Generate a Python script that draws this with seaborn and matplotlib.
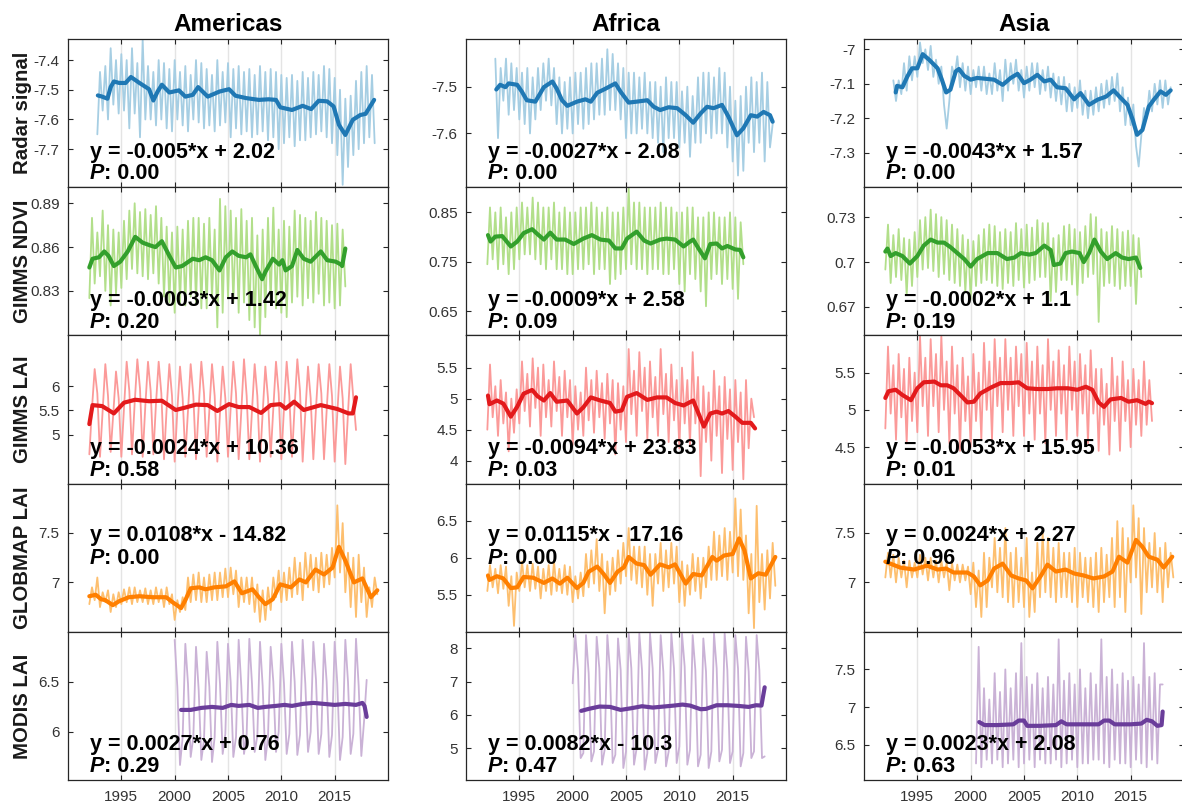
import numpy as np
import matplotlib
matplotlib.use("Agg")
import matplotlib.pyplot as plt
from matplotlib.ticker import FuncFormatter
import seaborn as sns

sns.set_theme(style="white")
plt.rcParams["font.family"] = ["Liberation Sans", "DejaVu Sans"]
plt.rcParams["axes.unicode_minus"] = False

regions = ["Americas", "Africa", "Asia"]
products = ["Radar signal", "GIMMS NDVI", "GIMMS LAI", "GLOBMAP LAI", "MODIS LAI"]
tick_years = [1995, 2000, 2005, 2010, 2015]

# ---------------- Radar signal (quarterly, from 1992.75) ----------------
radar_am_thin = [
    -7.65,
    -7.44, -7.57, -7.42, -7.60,  # 1993
    -7.36, -7.55, -7.40, -7.58,
    -7.38, -7.57, -7.40, -7.63,
    -7.36, -7.58, -7.41, -7.66,
    -7.33, -7.60, -7.42, -7.60,
    -7.44, -7.62, -7.40, -7.60,
    -7.41, -7.63, -7.43, -7.64,
    -7.40, -7.60, -7.44, -7.62,  # 2000
    -7.42, -7.64, -7.45, -7.60,
    -7.40, -7.61, -7.41, -7.63,
    -7.43, -7.62, -7.45, -7.64,
    -7.40, -7.62, -7.44, -7.61,
    -7.41, -7.66, -7.43, -7.63,  # 2005
    -7.42, -7.65, -7.44, -7.64,
    -7.43, -7.66, -7.45, -7.65,
    -7.42, -7.64, -7.44, -7.67,
    -7.43, -7.66, -7.44, -7.70,
    -7.45, -7.68, -7.46, -7.66,  # 2010
    -7.45, -7.69, -7.47, -7.67,
    -7.44, -7.67, -7.46, -7.66,
    -7.44, -7.65, -7.45, -7.64,
    -7.42, -7.66, -7.43, -7.68,
    -7.46, -7.72, -7.50, -7.82,  # 2015
    -7.53, -7.76, -7.52, -7.72,
    -7.47, -7.70, -7.44, -7.68,
    -7.42, -7.66, -7.45, -7.68,
]
radar_am_t = [1992.8, 1993.2, 1993.7, 1994.0, 1994.3, 1994.8, 1995.4, 1995.9, 1996.7,
              1997.6, 1998.0, 1998.4, 1998.8, 1999.5, 2000.4, 2001.0, 2001.7, 2002.2,
              2003.1, 2004.2, 2005.1, 2005.7, 2006.7, 2007.9, 2008.8, 2009.5, 2009.9,
              2011.0, 2012.0, 2012.8, 2013.5, 2014.3, 2014.9, 2015.4, 2016.0, 2016.7,
              2017.4, 2017.9, 2018.7]
radar_am_v = [-7.519, -7.523, -7.530, -7.491, -7.472, -7.477, -7.477, -7.457, -7.477,
              -7.498, -7.536, -7.506, -7.483, -7.509, -7.502, -7.523, -7.517, -7.491,
              -7.523, -7.506, -7.498, -7.520, -7.528, -7.534, -7.532, -7.534, -7.559,
              -7.568, -7.554, -7.565, -7.537, -7.539, -7.556, -7.618, -7.652, -7.601,
              -7.585, -7.581, -7.534]

radar_af_thin = [
    -7.44,
    -7.61, -7.46, -7.53, -7.44,  # 1993
    -7.56, -7.45, -7.55, -7.46,
    -7.57, -7.47, -7.58, -7.46,
    -7.60, -7.48, -7.57, -7.46,
    -7.55, -7.45, -7.53, -7.44,
    -7.54, -7.46, -7.58, -7.48,
    -7.60, -7.49, -7.59, -7.48,
    -7.60, -7.47, -7.58, -7.47,  # 2000
    -7.59, -7.46, -7.58, -7.45,
    -7.57, -7.45, -7.56, -7.44,
    -7.56, -7.42, -7.55, -7.43,
    -7.55, -7.45, -7.57, -7.46,
    -7.61, -7.47, -7.60, -7.47,  # 2005
    -7.60, -7.48, -7.59, -7.47,
    -7.60, -7.49, -7.61, -7.49,
    -7.62, -7.50, -7.64, -7.48,
    -7.61, -7.49, -7.61, -7.49,
    -7.63, -7.51, -7.62, -7.50,  # 2010
    -7.65, -7.52, -7.62, -7.48,
    -7.62, -7.47, -7.60, -7.47,
    -7.61, -7.48, -7.60, -7.46,
    -7.60, -7.47, -7.63, -7.50,
    -7.66, -7.53, -7.69, -7.52,  # 2015
    -7.68, -7.50, -7.62, -7.48,
    -7.64, -7.49, -7.62, -7.47,
    -7.66, -7.49, -7.63, -7.58,
]
radar_af_t = [1992.84, 1993.2, 1993.7, 1994.0, 1994.8, 1995.25, 1995.7, 1996.5, 1997.3,
              1998.1, 1998.5, 1999.0, 1999.5, 2000.4, 2001.2, 2001.7, 2002.3, 2003.1,
              2004.0, 2004.5, 2005.25, 2006.0, 2007.0, 2007.6, 2008.2, 2009.0, 2009.8,
              2010.6, 2011.3, 2012.0, 2012.6, 2013.2, 2014.0, 2014.6, 2015.4, 2016.0,
              2016.7, 2017.3, 2017.9, 2018.5, 2018.75]
radar_af_v = [-7.506, -7.496, -7.501, -7.493, -7.496, -7.511, -7.529, -7.532, -7.501,
              -7.489, -7.504, -7.529, -7.541, -7.532, -7.527, -7.532, -7.513, -7.504,
              -7.493, -7.511, -7.534, -7.532, -7.529, -7.543, -7.550, -7.544, -7.546,
              -7.561, -7.577, -7.557, -7.543, -7.546, -7.539, -7.564, -7.604, -7.589,
              -7.561, -7.564, -7.554, -7.561, -7.575]

radar_as_thin = [
    -7.09,
    -7.15, -7.09, -7.13, -7.04,  # 1993
    -7.12, -7.02, -7.09, -7.02,
    -7.08, -6.98, -7.04, -7.00,
    -7.06, -6.99, -7.08, -7.03,
    -7.10, -7.05, -7.16, -7.23,
    -7.15, -7.05, -7.08, -7.02,
    -7.11, -7.04, -7.12, -7.05,
    -7.13, -7.06, -7.11, -7.05,  # 2000
    -7.12, -7.05, -7.13, -7.07,
    -7.13, -7.04, -7.12, -7.06,
    -7.15, -7.03, -7.12, -7.04,
    -7.10, -7.03, -7.12, -7.06,
    -7.14, -7.05, -7.12, -7.04,  # 2005
    -7.11, -7.04, -7.13, -7.06,
    -7.12, -7.05, -7.14, -7.07,
    -7.15, -7.08, -7.16, -7.08,
    -7.18, -7.10, -7.18, -7.11,
    -7.17, -7.09, -7.19, -7.12,  # 2010
    -7.20, -7.12, -7.19, -7.11,
    -7.18, -7.10, -7.17, -7.09,
    -7.16, -7.08, -7.15, -7.07,
    -7.18, -7.11, -7.22, -7.14,
    -7.22, -7.16, -7.28, -7.34,  # 2015
    -7.25, -7.17, -7.20, -7.12,
    -7.18, -7.10, -7.16, -7.09,
    -7.17, -7.09, -7.16, -7.11,
]
radar_as_t = [1992.97, 1993.1, 1993.6, 1994.06, 1994.5, 1995.0, 1995.5, 1996.1, 1996.9,
              1997.3, 1997.7, 1998.1, 1998.6, 1998.9, 1999.4, 2000.0, 2000.6, 2001.6,
              2002.2, 2003.0, 2003.75, 2004.4, 2005.0, 2005.6, 2006.25, 2006.9, 2007.5,
              2008.1, 2008.9, 2009.7, 2010.3, 2011.1, 2011.9, 2012.7, 2013.4, 2014.1,
              2014.7, 2015.2, 2015.6, 2016.1, 2016.7, 2017.2, 2017.8, 2018.3, 2018.75]
radar_as_v = [-7.125, -7.106, -7.110, -7.079, -7.055, -7.055, -7.014, -7.030, -7.055,
              -7.088, -7.125, -7.117, -7.064, -7.057, -7.077, -7.088, -7.083, -7.086,
              -7.088, -7.103, -7.083, -7.071, -7.098, -7.088, -7.074, -7.093, -7.088,
              -7.110, -7.113, -7.145, -7.127, -7.161, -7.146, -7.137, -7.119, -7.142,
              -7.161, -7.205, -7.248, -7.234, -7.166, -7.145, -7.122, -7.132, -7.119]

# ---------------- GIMMS NDVI (quarterly, from 1992.0) ----------------
ndvi_am_thin = [
    0.825, 0.880, 0.835, 0.870,  # 1992
    0.840, 0.885, 0.830, 0.875,
    0.820, 0.872, 0.828, 0.870,
    0.832, 0.878, 0.838, 0.885,
    0.845, 0.890, 0.842, 0.884,
    0.840, 0.886, 0.838, 0.882,
    0.842, 0.888, 0.835, 0.880,
    0.826, 0.874, 0.822, 0.870,
    0.815, 0.874, 0.822, 0.872,  # 2000
    0.820, 0.878, 0.826, 0.880,
    0.822, 0.880, 0.818, 0.876,
    0.818, 0.880, 0.825, 0.872,
    0.805, 0.893, 0.815, 0.888,
    0.825, 0.885, 0.822, 0.880,  # 2005
    0.815, 0.886, 0.822, 0.878,
    0.810, 0.880, 0.805, 0.868,
    0.800, 0.872, 0.812, 0.880,
    0.822, 0.887, 0.818, 0.872,
    0.815, 0.878, 0.812, 0.874,  # 2010
    0.822, 0.885, 0.826, 0.882,
    0.820, 0.880, 0.825, 0.878,
    0.822, 0.884, 0.828, 0.880,
    0.820, 0.878, 0.822, 0.875,
    0.818, 0.876, 0.820, 0.872,  # 2015
    0.833,
]
ndvi_am_t = [1992.0, 1992.3, 1992.9, 1993.4, 1993.8, 1994.3, 1994.9, 1995.6, 1996.3,
             1997.0, 1997.75, 1998.2, 1998.8, 1999.5, 2000.1, 2000.7, 2001.7, 2002.3,
             2002.9, 2003.5, 2004.2, 2004.8, 2005.4, 2006.0, 2006.7, 2007.1, 2007.6,
             2008.2, 2008.5, 2009.2, 2009.8, 2010.1, 2010.4, 2011.0, 2011.5, 2012.1,
             2012.75, 2013.7, 2014.3, 2015.1, 2015.6, 2015.7, 2016.0]
ndvi_am_v = [0.846, 0.852, 0.853, 0.857, 0.854, 0.847, 0.850, 0.857, 0.867,
             0.863, 0.861, 0.860, 0.864, 0.854, 0.846, 0.847, 0.852, 0.851,
             0.853, 0.851, 0.844, 0.853, 0.857, 0.854, 0.853, 0.855, 0.847,
             0.838, 0.843, 0.852, 0.848, 0.851, 0.844, 0.847, 0.858, 0.852,
             0.850, 0.857, 0.851, 0.850, 0.848, 0.847, 0.859]

ndvi_af_thin = [
    0.745, 0.860, 0.755, 0.850,  # 1992
    0.735, 0.860, 0.745, 0.840,
    0.725, 0.850, 0.735, 0.860,
    0.755, 0.870, 0.765, 0.860,
    0.765, 0.880, 0.755, 0.870,
    0.745, 0.860, 0.735, 0.860,
    0.755, 0.870, 0.735, 0.850,
    0.735, 0.860, 0.725, 0.850,
    0.725, 0.850, 0.735, 0.860,  # 2000
    0.735, 0.860, 0.745, 0.870,
    0.725, 0.860, 0.735, 0.850,
    0.735, 0.860, 0.705, 0.850,
    0.715, 0.850, 0.725, 0.860,
    0.735, 0.900, 0.745, 0.870,  # 2005
    0.735, 0.870, 0.735, 0.860,
    0.725, 0.860, 0.735, 0.860,
    0.735, 0.870, 0.725, 0.860,
    0.725, 0.860, 0.735, 0.850,
    0.705, 0.850, 0.690, 0.860,  # 2010
    0.725, 0.860, 0.715, 0.840,
    0.690, 0.840, 0.660, 0.850,
    0.715, 0.850, 0.725, 0.840,
    0.705, 0.840, 0.715, 0.850,
    0.695, 0.840, 0.675, 0.830,  # 2015
    0.745,
]
ndvi_af_t = [1992.06, 1992.3, 1992.75, 1993.4, 1994.2, 1994.8, 1995.4, 1996.2, 1996.7,
             1997.3, 1997.9, 1998.5, 1999.3, 2000.1, 2001.0, 2001.8, 2002.6, 2003.4,
             2004.0, 2004.6, 2005.1, 2006.0, 2006.7, 2007.3, 2008.2, 2008.8, 2009.6,
             2010.4, 2011.0, 2011.3, 2011.8, 2012.4, 2012.9, 2013.5, 2014.0, 2014.5,
             2015.25, 2015.7, 2016.0]
ndvi_af_v = [0.804, 0.791, 0.801, 0.802, 0.781, 0.791, 0.808, 0.816, 0.806,
             0.795, 0.809, 0.795, 0.795, 0.786, 0.797, 0.804, 0.795, 0.793,
             0.777, 0.777, 0.797, 0.811, 0.793, 0.787, 0.795, 0.797, 0.795,
             0.781, 0.791, 0.795, 0.777, 0.757, 0.786, 0.787, 0.777, 0.782,
             0.775, 0.774, 0.759]

ndvi_as_thin = [
    0.695, 0.725, 0.686, 0.718,  # 1992
    0.690, 0.722, 0.688, 0.716,
    0.678, 0.715, 0.684, 0.720,
    0.690, 0.728, 0.695, 0.730,
    0.696, 0.735, 0.694, 0.732,
    0.690, 0.730, 0.692, 0.728,
    0.688, 0.725, 0.686, 0.722,
    0.684, 0.718, 0.680, 0.715,
    0.675, 0.714, 0.684, 0.718,  # 2000
    0.686, 0.722, 0.688, 0.725,
    0.686, 0.724, 0.684, 0.720,
    0.682, 0.722, 0.686, 0.720,
    0.684, 0.726, 0.688, 0.722,
    0.683, 0.725, 0.686, 0.723,  # 2005
    0.688, 0.728, 0.690, 0.726,
    0.690, 0.726, 0.674, 0.716,
    0.680, 0.718, 0.688, 0.724,
    0.688, 0.725, 0.685, 0.722,
    0.678, 0.720, 0.686, 0.724,  # 2010
    0.690, 0.732, 0.692, 0.730,
    0.660, 0.722, 0.684, 0.720,
    0.686, 0.724, 0.684, 0.722,
    0.682, 0.720, 0.684, 0.721,
    0.684, 0.718, 0.672, 0.716,  # 2015
    0.690,
]
ndvi_as_t = [1992.0, 1992.2, 1992.5, 1992.97, 1993.6, 1994.3, 1995.0, 1995.6, 1996.25,
             1996.9, 1997.5, 1998.1, 1998.75, 1999.4, 2000.0, 2000.6, 2001.6, 2002.5,
             2003.4, 2004.1, 2004.7, 2005.5, 2006.1, 2006.9, 2007.5, 2007.8, 2008.4,
             2008.9, 2009.5, 2010.2, 2010.6, 2011.1, 2011.6, 2012.2, 2012.8, 2013.6,
             2014.2, 2014.8, 2015.5, 2015.9]
ndvi_as_v = [0.707, 0.709, 0.704, 0.706, 0.704, 0.699, 0.704, 0.711, 0.715,
             0.713, 0.713, 0.710, 0.706, 0.702, 0.697, 0.702, 0.706, 0.706,
             0.702, 0.703, 0.706, 0.705, 0.706, 0.711, 0.708, 0.698, 0.699,
             0.706, 0.707, 0.706, 0.700, 0.706, 0.715, 0.707, 0.702, 0.706,
             0.703, 0.702, 0.703, 0.696]

# ---------------- GIMMS LAI (quarterly, from 1992.0) ----------------
lai_am_thin = [
    4.60, 5.55, 6.35, 5.85,  # 1992
    4.55, 5.50, 6.45, 5.80,
    4.65, 5.45, 6.30, 5.75,
    4.55, 5.55, 6.50, 5.90,
    4.60, 5.65, 6.55, 5.95,
    4.55, 5.60, 6.50, 5.90,
    4.60, 5.65, 6.50, 5.85,
    4.50, 5.55, 6.45, 5.80,
    4.45, 5.50, 6.40, 5.75,  # 2000
    4.55, 5.50, 6.45, 5.80,
    4.50, 5.55, 6.50, 5.85,
    4.55, 5.50, 6.45, 5.80,
    4.45, 5.45, 6.40, 5.75,
    4.55, 5.55, 6.50, 5.85,  # 2005
    4.50, 5.50, 6.55, 5.80,
    4.50, 5.50, 6.45, 5.80,
    4.45, 5.45, 6.40, 5.75,
    4.55, 5.55, 6.50, 5.85,
    4.50, 5.55, 6.50, 5.80,  # 2010
    4.55, 5.60, 6.55, 5.90,
    4.45, 5.45, 6.40, 5.75,
    4.50, 5.55, 6.45, 5.85,
    4.50, 5.50, 6.45, 5.80,
    4.45, 5.45, 6.40, 5.75,  # 2015
    4.40, 5.45, 6.45, 5.75,
    5.10,
]
lai_am_t = [1992.0, 1992.3, 1993.2, 1994.3, 1995.25, 1996.3, 1997.6, 1998.8, 2000.1,
            2001.0, 2002.0, 2003.1, 2004.0, 2005.1, 2006.0, 2007.0, 2008.1, 2009.0,
            2009.9, 2010.4, 2011.2, 2012.1, 2013.7, 2015.25, 2016.3, 2016.7, 2017.0]
lai_am_v = [5.22, 5.61, 5.59, 5.44, 5.66, 5.72, 5.69, 5.70, 5.51,
            5.56, 5.62, 5.61, 5.49, 5.63, 5.57, 5.57, 5.45, 5.61,
            5.63, 5.54, 5.68, 5.51, 5.61, 5.53, 5.44, 5.44, 5.77]

lai_af_thin = [
    4.50, 5.55, 4.70, 5.20,  # 1992
    4.40, 5.30, 4.60, 5.10,
    4.15, 5.00, 4.45, 5.15,
    4.60, 5.60, 4.80, 5.40,
    4.55, 5.65, 4.85, 5.50,
    4.40, 5.55, 4.70, 5.30,
    4.55, 5.60, 4.80, 5.35,
    4.40, 5.45, 4.70, 5.30,
    4.25, 5.20, 4.50, 5.10,  # 2000
    4.40, 5.50, 4.65, 5.30,
    4.45, 5.45, 4.70, 5.25,
    4.35, 5.40, 4.60, 5.30,
    4.10, 5.25, 4.50, 5.20,
    4.30, 5.80, 4.75, 5.45,  # 2005
    4.40, 5.75, 4.80, 5.50,
    4.35, 5.60, 4.70, 5.35,
    4.40, 5.80, 4.75, 5.40,
    4.30, 5.55, 4.65, 5.30,
    4.20, 5.50, 4.60, 5.30,  # 2010
    4.25, 5.75, 4.60, 5.35,
    3.75, 5.20, 4.30, 5.10,
    4.00, 5.45, 4.40, 5.20,
    3.80, 5.35, 4.35, 5.15,
    3.85, 5.30, 4.30, 5.10,  # 2015
    3.70, 5.30, 4.20, 5.00,
    4.70,
]
lai_af_t = [1992.06, 1992.2, 1992.9, 1993.5, 1994.2, 1994.8, 1995.4, 1996.2, 1996.7,
            1997.3, 1997.9, 1998.5, 1999.5, 2000.4, 2001.0, 2001.7, 2002.6, 2003.5,
            2004.0, 2004.6, 2005.1, 2006.0, 2007.0, 2007.9, 2008.8, 2009.6, 2010.4,
            2011.3, 2011.8, 2012.3, 2012.9, 2013.5, 2014.0, 2014.6, 2015.25, 2015.9,
            2016.7, 2017.1]
lai_af_v = [5.05, 4.91, 4.97, 4.92, 4.71, 4.87, 5.08, 5.14, 5.04,
            4.97, 5.09, 4.95, 4.97, 4.76, 4.86, 5.02, 4.97, 4.93,
            4.79, 4.81, 5.03, 5.09, 4.98, 5.02, 5.02, 4.93, 4.89,
            4.97, 4.76, 4.55, 4.76, 4.79, 4.76, 4.80, 4.71, 4.61,
            4.61, 4.52]

lai_as_thin = [
    4.75, 5.85, 4.95, 5.60,  # 1992
    4.60, 5.75, 4.90, 5.55,
    4.55, 5.70, 4.85, 5.50,
    4.70, 6.00, 5.05, 5.70,
    4.65, 5.95, 5.05, 5.75,
    4.70, 6.00, 5.00, 5.65,
    4.55, 5.85, 4.95, 5.60,
    4.45, 5.70, 4.85, 5.45,
    4.50, 5.75, 4.85, 5.50,  # 2000
    4.60, 5.90, 5.00, 5.65,
    4.60, 5.95, 5.05, 5.70,
    4.70, 5.95, 5.00, 5.70,
    4.65, 5.85, 5.05, 5.75,
    4.65, 5.90, 4.95, 5.65,  # 2005
    4.60, 5.85, 4.95, 5.60,
    4.55, 5.95, 5.00, 5.65,
    4.65, 5.80, 4.95, 5.60,
    4.60, 5.85, 5.00, 5.65,
    4.65, 5.75, 4.95, 5.60,  # 2010
    4.55, 5.80, 4.95, 5.55,
    4.45, 5.55, 4.80, 5.35,
    4.40, 5.70, 4.85, 5.45,
    4.45, 5.65, 4.85, 5.40,
    4.50, 5.55, 4.80, 5.40,  # 2015
    4.65, 5.65, 4.80, 5.40,
    4.85,
]
lai_as_t = [1992.0, 1992.3, 1992.97, 1993.6, 1994.4, 1995.0, 1995.6, 1996.6, 1997.2,
            1997.8, 1998.4, 1999.1, 1999.7, 2000.3, 2000.9, 2001.9, 2002.8, 2003.75,
            2004.5, 2005.3, 2006.25, 2007.2, 2008.1, 2009.1, 2010.0, 2010.8, 2011.4,
            2012.0, 2012.5, 2013.1, 2014.1, 2014.8, 2015.6, 2016.4, 2016.7, 2017.0]
lai_as_v = [5.16, 5.25, 5.27, 5.20, 5.13, 5.29, 5.37, 5.38, 5.33,
            5.33, 5.29, 5.19, 5.10, 5.11, 5.22, 5.30, 5.36, 5.36,
            5.37, 5.29, 5.28, 5.28, 5.29, 5.29, 5.27, 5.31, 5.27,
            5.10, 5.04, 5.14, 5.16, 5.11, 5.13, 5.08, 5.11, 5.09]

# ---------------- GLOBMAP LAI (quarterly, from 1992.0) ----------------
glob_am_thin = [
    6.78, 6.95, 6.82, 7.05,  # 1992
    6.75, 6.90, 6.80, 6.92,
    6.70, 6.88, 6.75, 6.90,
    6.78, 6.93, 6.80, 6.95,
    6.78, 6.95, 6.80, 6.92,
    6.80, 6.94, 6.78, 6.92,
    6.78, 6.95, 6.80, 6.93,
    6.75, 6.95, 6.78, 6.88,
    6.62, 6.82, 6.70, 6.85,  # 2000
    6.72, 7.05, 6.80, 7.08,
    6.82, 7.10, 6.80, 7.05,
    6.80, 7.08, 6.82, 7.10,
    6.82, 7.10, 6.85, 7.14,
    6.85, 7.15, 6.88, 7.12,  # 2005
    6.75, 7.05, 6.80, 7.05,
    6.78, 7.05, 6.70, 6.98,
    6.60, 6.92, 6.62, 6.95,
    6.72, 7.05, 6.85, 7.12,
    6.80, 7.10, 6.82, 7.15,  # 2010
    6.85, 7.25, 6.88, 7.20,
    6.82, 7.30, 6.95, 7.28,
    6.92, 7.25, 6.90, 7.30,
    6.95, 7.28, 6.98, 7.35,
    7.05, 7.78, 7.10, 7.60,  # 2015
    6.90, 7.30, 6.75, 7.25,
    6.65, 7.28, 6.80, 7.15,
    6.65, 6.95, 6.75, 7.05,
    6.88,
]
glob_am_t = [1992.0, 1992.6, 1993.1, 1993.5, 1994.2, 1994.8, 1995.7, 1996.7, 1997.9,
             1999.2, 1999.8, 2000.6, 2001.0, 2001.5, 2002.3, 2002.9, 2003.7, 2004.8,
             2005.6, 2006.3, 2007.3, 2007.9, 2008.5, 2009.2, 2009.9, 2010.9, 2011.7,
             2012.3, 2013.2, 2014.0, 2014.8, 2015.4, 2016.0, 2016.8, 2017.6, 2018.4,
             2019.0]
glob_am_v = [6.86, 6.875, 6.83, 6.82, 6.77, 6.81, 6.85, 6.86, 6.85,
             6.85, 6.80, 6.74, 6.82, 6.94, 6.95, 6.93, 6.95, 6.96,
             7.01, 6.89, 6.93, 6.85, 6.78, 6.83, 6.98, 6.95, 7.03,
             7.00, 7.13, 7.08, 7.15, 7.36, 7.22, 7.00, 7.04, 6.85,
             6.92]

glob_af_thin = [
    5.55, 5.90, 5.60, 5.85,  # 1992
    5.52, 5.90, 5.58, 5.88,
    5.35, 5.75, 5.08, 5.80,
    5.55, 5.95, 5.60, 5.90,
    5.55, 5.92, 5.58, 5.88,
    5.45, 5.85, 5.55, 5.90,
    5.50, 5.95, 5.55, 5.85,
    5.52, 5.90, 5.50, 5.88,
    5.40, 5.75, 5.45, 5.80,  # 2000
    5.48, 6.05, 5.60, 6.10,
    5.65, 6.25, 5.55, 6.05,
    5.25, 5.95, 5.50, 6.00,
    5.55, 6.10, 5.65, 6.20,
    5.75, 6.40, 5.70, 6.15,  # 2005
    5.65, 6.15, 5.60, 6.15,
    5.50, 6.05, 5.35, 6.05,
    5.65, 6.20, 5.55, 6.10,
    5.60, 6.20, 5.65, 6.15,
    5.40, 5.95, 5.35, 5.90,  # 2010
    5.50, 6.05, 5.55, 6.00,
    5.45, 6.00, 5.60, 6.15,
    5.70, 6.35, 5.70, 6.30,
    5.75, 6.40, 5.70, 6.35,
    5.80, 6.80, 5.75, 6.65,  # 2015
    5.70, 6.30, 5.25, 6.05,
    5.05, 6.70, 5.40, 6.05,
    5.30, 6.10, 5.45, 6.20,
    5.62,
]
glob_af_t = [1992.06, 1992.2, 1992.9, 1993.5, 1994.2, 1994.8, 1995.4, 1996.3, 1997.3,
             1998.1, 1998.8, 1999.5, 2000.4, 2001.0, 2001.5, 2002.3, 2002.9, 2003.5,
             2004.2, 2004.8, 2005.25, 2006.0, 2006.7, 2007.3, 2008.2, 2009.0, 2009.6,
             2010.6, 2011.3, 2012.1, 2013.1, 2013.5, 2014.2, 2015.0, 2015.6, 2016.1,
             2016.7, 2017.4, 2018.1, 2019.0]
glob_af_v = [5.76, 5.70, 5.75, 5.72, 5.59, 5.60, 5.74, 5.73, 5.66,
             5.72, 5.65, 5.73, 5.59, 5.66, 5.81, 5.88, 5.78, 5.66,
             5.81, 5.87, 6.01, 5.92, 5.90, 5.77, 5.91, 5.87, 5.91,
             5.65, 5.78, 5.76, 6.01, 5.96, 6.03, 6.05, 6.26, 6.10,
             5.72, 5.79, 5.77, 6.01]

glob_as_thin = [
    7.05, 7.30, 7.05, 7.28,  # 1992
    7.00, 7.25, 7.05, 7.22,
    6.95, 7.22, 7.05, 7.20,
    7.05, 7.28, 7.08, 7.25,
    7.02, 7.25, 7.05, 7.22,
    7.00, 7.22, 7.05, 7.20,
    6.92, 7.20, 7.02, 7.18,
    7.00, 7.18, 7.02, 7.16,
    6.88, 7.20, 6.75, 7.12,  # 2000
    6.65, 7.30, 6.75, 7.25,
    6.95, 7.45, 6.90, 7.35,
    6.85, 7.55, 6.80, 7.30,
    6.75, 7.35, 6.80, 7.25,
    6.75, 7.45, 6.65, 7.10,  # 2005
    6.70, 7.40, 6.85, 7.50,
    6.90, 7.45, 6.85, 7.35,
    6.80, 7.40, 6.85, 7.30,
    6.85, 7.30, 6.80, 7.35,
    6.75, 7.30, 6.85, 7.25,  # 2010
    6.80, 7.25, 6.75, 7.30,
    6.70, 7.35, 6.80, 7.28,
    6.85, 7.45, 6.75, 7.62,
    6.85, 7.55, 6.70, 7.45,
    7.00, 7.78, 7.05, 7.65,  # 2015
    6.68, 7.55, 6.90, 7.40,
    6.95, 7.50, 6.90, 7.35,
    6.80, 7.40, 6.95, 7.30,
    7.05,
]
glob_as_t = [1992.0, 1992.7, 1993.4, 1994.7, 1995.9, 1996.9, 1997.7, 1998.4, 1999.7,
             2000.3, 2000.9, 2001.6, 2002.2, 2003.0, 2003.8, 2004.5, 2005.2, 2005.8,
             2006.6, 2007.2, 2008.0, 2008.9, 2009.7, 2010.6, 2011.5, 2012.5, 2013.3,
             2013.9, 2014.7, 2015.5, 2016.1, 2016.7, 2017.5, 2018.1, 2018.9]
glob_as_v = [7.21, 7.18, 7.15, 7.13, 7.17, 7.13, 7.14, 7.10, 7.10,
             7.06, 6.97, 7.02, 7.14, 7.19, 7.07, 7.04, 7.02, 6.94,
             7.07, 7.18, 7.11, 7.13, 7.09, 7.07, 7.04, 7.06, 7.11,
             7.26, 7.20, 7.43, 7.36, 7.26, 7.23, 7.15, 7.26]

# ---------------- MODIS LAI (quarterly) ----------------
modis_am_thin = [
    6.92, 6.45, 5.67, 5.95,  # 2000
    6.88, 6.48, 5.75, 5.95,
    6.85, 6.42, 5.72, 5.92,
    6.80, 6.45, 5.70, 5.95,
    6.90, 6.48, 5.78, 5.98,
    6.88, 6.50, 5.75, 5.95,  # 2005
    6.92, 6.45, 5.78, 5.98,
    6.93, 6.48, 5.80, 5.96,
    6.90, 6.46, 5.72, 5.95,
    6.85, 6.50, 5.80, 6.00,
    6.88, 6.48, 5.78, 5.98,  # 2010
    6.90, 6.50, 5.77, 5.97,
    6.92, 6.48, 5.80, 6.00,
    6.90, 6.52, 5.78, 5.98,
    6.88, 6.50, 5.75, 5.97,
    6.90, 6.48, 5.72, 5.95,  # 2015
    6.92, 6.50, 5.78, 5.98,
    6.93, 6.46, 5.76, 6.10,
    6.52,
]
modis_am_t = [2000.6, 2001.5, 2002.5, 2003.5, 2004.5, 2005.3, 2006.0, 2007.0, 2007.8,
              2008.5, 2009.5, 2010.3, 2011.0, 2012.0, 2013.0, 2014.0, 2015.0, 2016.0,
              2017.0, 2017.6, 2017.8, 2018.0]
modis_am_v = [6.22, 6.22, 6.24, 6.25, 6.24, 6.27, 6.26, 6.27, 6.24,
              6.25, 6.26, 6.27, 6.26, 6.28, 6.29, 6.28, 6.27, 6.28,
              6.27, 6.29, 6.26, 6.15]

modis_af_thin = [
    6.95, 8.40, 7.35, 4.70,  # 2000
    4.85, 8.40, 7.25, 4.60,
    4.90, 8.35, 7.40, 4.50,
    4.95, 8.40, 7.30, 4.55,
    4.80, 8.30, 7.35, 4.40,
    4.90, 8.45, 7.40, 4.50,  # 2005
    5.00, 8.45, 7.35, 4.35,
    4.85, 8.45, 7.40, 4.55,
    4.95, 8.40, 7.30, 4.45,
    4.90, 8.45, 7.40, 4.55,
    5.05, 8.45, 7.45, 4.50,  # 2010
    4.95, 8.40, 7.35, 4.45,
    4.80, 8.30, 7.30, 4.40,
    4.90, 8.45, 7.40, 4.60,
    4.95, 8.45, 7.35, 4.55,
    4.90, 8.40, 7.40, 4.45,  # 2015
    4.85, 8.35, 7.30, 4.70,
    4.90, 8.40, 7.35, 4.70,
    4.75,
]
modis_af_t = [2000.8, 2001.5, 2002.5, 2003.5, 2004.5, 2005.5, 2006.5, 2007.5, 2008.5,
              2009.5, 2010.3, 2011.0, 2012.0, 2012.5, 2013.5, 2014.5, 2015.5, 2016.5,
              2017.2, 2017.7, 2018.0]
modis_af_v = [6.12, 6.18, 6.25, 6.24, 6.15, 6.20, 6.26, 6.22, 6.25,
              6.28, 6.31, 6.28, 6.17, 6.18, 6.29, 6.29, 6.27, 6.24,
              6.29, 6.28, 6.83]

modis_as_thin = [
    6.25, 7.80,                  # 2000.5
    6.20, 7.25, 6.30, 7.10,      # 2001
    6.25, 7.45, 6.30, 7.20,
    6.20, 7.50, 6.25, 7.25,
    6.30, 7.45, 6.20, 7.85,
    6.25, 7.40, 6.30, 7.30,      # 2005
    6.20, 7.45, 6.30, 7.25,
    6.25, 7.40, 6.25, 7.30,
    6.30, 7.90, 6.20, 7.35,
    6.25, 7.45, 6.30, 7.30,
    6.20, 7.50, 6.25, 7.25,      # 2010
    6.25, 7.45, 6.30, 7.30,
    6.30, 7.90, 6.25, 7.40,
    6.20, 7.50, 6.30, 7.30,
    6.25, 7.45, 6.25, 7.35,
    6.20, 7.40, 6.30, 7.30,      # 2015
    6.25, 7.85, 6.20, 7.40,
    6.30, 7.45, 6.25, 7.30,
    7.30,
]
modis_as_t = [2000.8, 2001.3, 2002.5, 2004.0, 2004.5, 2005.0, 2005.3, 2006.5, 2008.0,
              2008.5, 2009.0, 2010.5, 2012.0, 2012.5, 2013.0, 2013.5, 2015.0, 2016.0,
              2016.5, 2017.0, 2017.5, 2017.9, 2018.0]
modis_as_v = [6.80, 6.76, 6.76, 6.77, 6.82, 6.82, 6.75, 6.75, 6.76,
              6.81, 6.77, 6.77, 6.77, 6.82, 6.82, 6.77, 6.77, 6.78,
              6.83, 6.81, 6.75, 6.76, 6.94]

# first sample time of each quarterly series
thin_start = [[1992.75, 1992.75, 1992.75],
              [1992.0, 1992.0, 1992.0],
              [1992.0, 1992.0, 1992.0],
              [1992.0, 1992.0, 1992.0],
              [2000.0, 2000.0, 2000.5]]

equations = [
    ["y = -0.005*x + 2.02", "y = -0.0027*x - 2.08", "y = -0.0043*x + 1.57"],
    ["y = -0.0003*x + 1.42", "y = -0.0009*x + 2.58", "y = -0.0002*x + 1.1"],
    ["y = -0.0024*x + 10.36", "y = -0.0094*x + 23.83", "y = -0.0053*x + 15.95"],
    ["y = 0.0108*x - 14.82", "y = 0.0115*x - 17.16", "y = 0.0024*x + 2.27"],
    ["y = 0.0027*x + 0.76", "y = 0.0082*x - 10.3", "y = 0.0023*x + 2.08"],
]
p_values = [
    ["0.00", "0.00", "0.00"],
    ["0.20", "0.09", "0.19"],
    ["0.58", "0.03", "0.01"],
    ["0.00", "0.00", "0.96"],
    ["0.29", "0.47", "0.63"],
]

y_limits = [
    [(-7.828, -7.329), (-7.715, -7.398), (-7.40, -6.97)],
    [(0.7995, 0.901), (0.601, 0.901), (0.651, 0.750)],
    [(4.0, 7.04), (3.63, 6.02), (4.01, 6.0)],
    [(6.5, 8.0), (5.0, 7.0), (6.5, 8.0)],
    [(5.52, 7.0), (4.04, 8.5), (6.03, 8.0)],
]
y_ticks = [
    [[-7.7, -7.6, -7.5, -7.4], [-7.6, -7.5], [-7.3, -7.2, -7.1, -7.0]],
    [[0.83, 0.86, 0.89], [0.65, 0.75, 0.85], [0.67, 0.70, 0.73]],
    [[5, 5.5, 6], [4, 4.5, 5, 5.5], [4.5, 5, 5.5]],
    [[7, 7.5], [5.5, 6, 6.5], [7, 7.5]],
    [[6, 6.5], [5, 6, 7, 8], [6.5, 7, 7.5]],
]

light_colors = ["#a6cee3", "#b2df8a", "#fb9a99", "#fdbf6f", "#cab2d6"]
dark_colors = ["#1f78b4", "#33a02c", "#e31a1c", "#ff7f00", "#6a3d9a"]

thin_series = [
    [radar_am_thin, radar_af_thin, radar_as_thin],
    [ndvi_am_thin, ndvi_af_thin, ndvi_as_thin],
    [lai_am_thin, lai_af_thin, lai_as_thin],
    [glob_am_thin, glob_af_thin, glob_as_thin],
    [modis_am_thin, modis_af_thin, modis_as_thin],
]
smooth_series = [
    [(radar_am_t, radar_am_v), (radar_af_t, radar_af_v), (radar_as_t, radar_as_v)],
    [(ndvi_am_t, ndvi_am_v), (ndvi_af_t, ndvi_af_v), (ndvi_as_t, ndvi_as_v)],
    [(lai_am_t, lai_am_v), (lai_af_t, lai_af_v), (lai_as_t, lai_as_v)],
    [(glob_am_t, glob_am_v), (glob_af_t, glob_af_v), (glob_as_t, glob_as_v)],
    [(modis_am_t, modis_am_v), (modis_af_t, modis_af_v), (modis_as_t, modis_as_v)],
]

# ---------------- layout (pixels on a 1182 x 805 canvas) ----------------
W, H = 1182, 805
fig = plt.figure(figsize=(W / 100, H / 100), dpi=100)
col_left = [68, 466, 864]
col_width = 320
row_top = 39
row_h = (780 - 39) / 5

axis_color = "#262626"
fmt = FuncFormatter(lambda v, _: f"{v:g}")
txt_size = 15.5

for r in range(5):
    for c in range(3):
        top = row_top + r * row_h
        ax = fig.add_axes([col_left[c] / W, 1 - (top + row_h) / H, col_width / W, row_h / H])
        ax.set_facecolor("white")

        thin = thin_series[r][c]
        t_thin = thin_start[r][c] + 0.25 * np.arange(len(thin))
        sns.lineplot(x=t_thin, y=thin, ax=ax, color=light_colors[r], linewidth=1.3,
                     estimator=None, sort=False)
        st, sv = smooth_series[r][c]
        sns.lineplot(x=st, y=sv, ax=ax, color=dark_colors[r], linewidth=3.0,
                     estimator=None, sort=False)

        ax.set_xlim(1990, 2020)
        ax.set_ylim(*y_limits[r][c])
        ax.set_xticks(tick_years)
        ax.set_yticks(y_ticks[r][c])
        ax.yaxis.set_major_formatter(fmt)
        ax.grid(axis="x", color="#e4e4e4", linewidth=1.0)
        ax.grid(axis="y", visible=False)
        ax.set_axisbelow(True)
        ax.set_xlabel("")
        ax.set_ylabel("")
        ax.tick_params(direction="in", top=True, right=True, bottom=True, left=True,
                       length=3.5, width=0.8, color=axis_color, labelsize=11,
                       labelcolor="#333333", pad=6)
        ax.tick_params(axis="x", pad=7, labelbottom=(r == 4))
        for sp in ax.spines.values():
            sp.set_color(axis_color)
            sp.set_linewidth(0.9)

        eq_y, p_y = (0.61, 0.455) if r == 3 else (0.20, 0.052)
        ax.text(0.069, eq_y, equations[r][c], transform=ax.transAxes, fontsize=txt_size,
                fontweight="bold", color="black", va="baseline", ha="left")
        p_txt = ax.text(0.069, p_y, "P", transform=ax.transAxes, fontsize=txt_size,
                        fontweight="bold", fontstyle="italic", color="black",
                        va="baseline", ha="left")
        ax.annotate(": " + p_values[r][c], xy=(1, 0), xycoords=p_txt, fontsize=txt_size,
                    fontweight="bold", color="black", va="bottom", ha="left")

        if r == 0:
            ax.set_title(regions[c], fontsize=17.5, fontweight="bold", color="black", pad=6)
        if c == 0:
            fig.text(23 / W, 1 - (top + row_h / 2) / H, products[r], rotation=90,
                     fontsize=14.7, fontweight="bold", color="#1a1a1a",
                     ha="center", va="center")

fig.savefig("out.png", dpi=100)
